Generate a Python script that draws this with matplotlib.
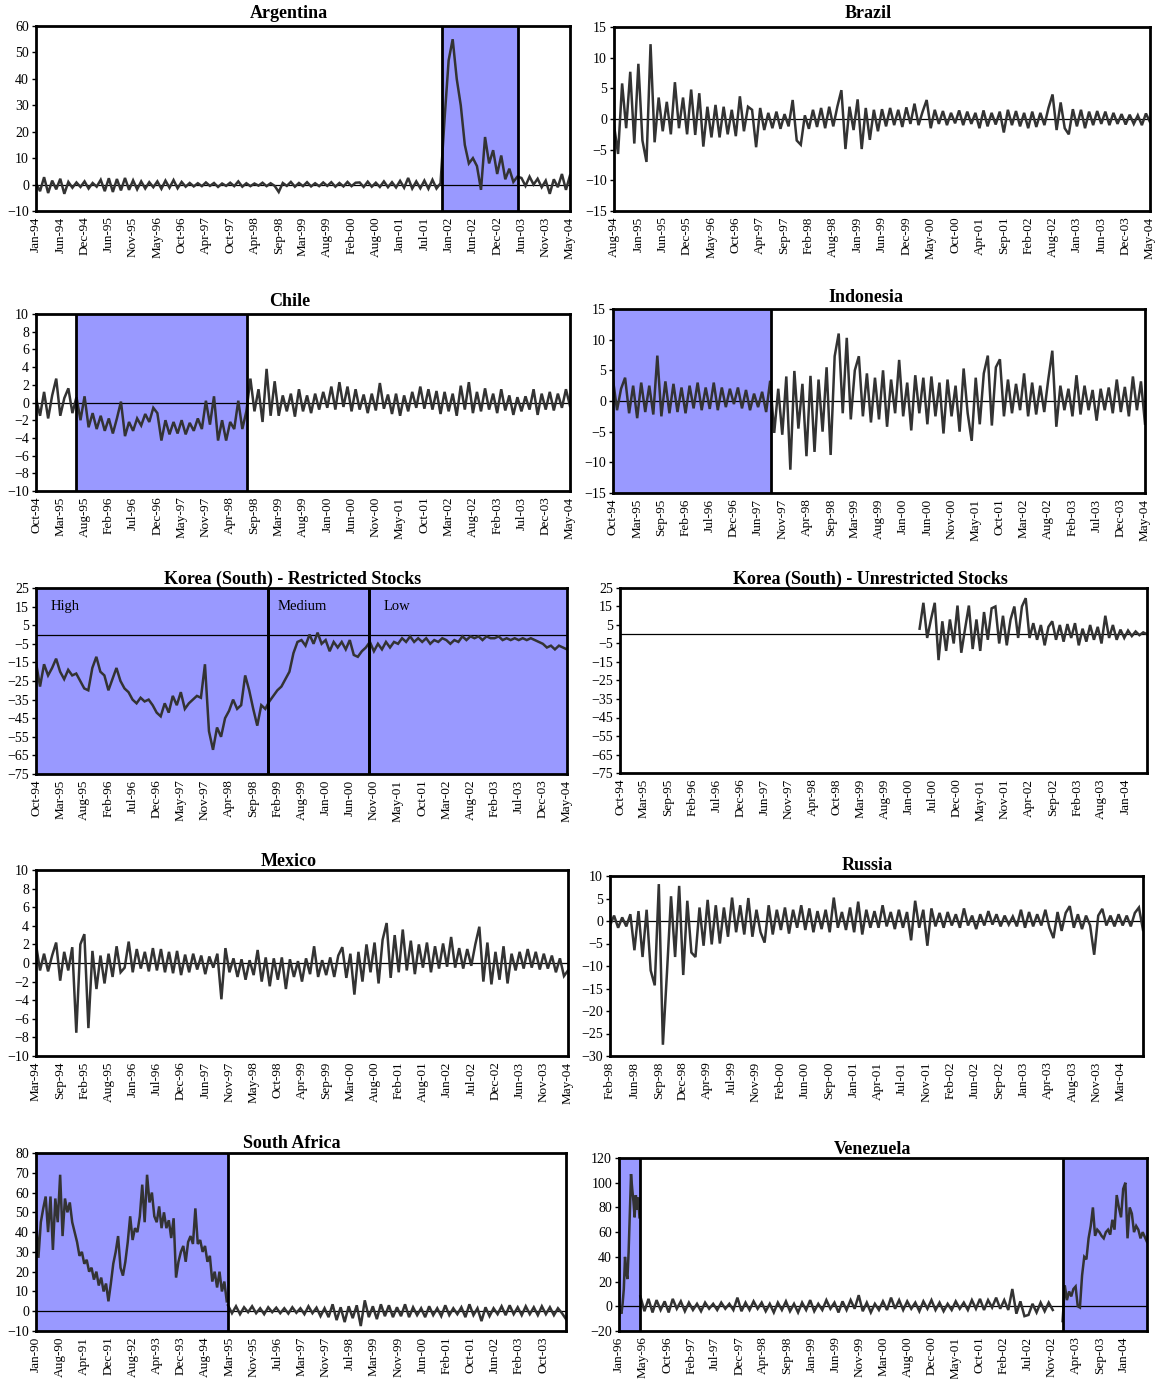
import numpy as np
import matplotlib.pyplot as plt

plt.rcParams['font.family'] = ['Liberation Serif', 'DejaVu Serif']

W, H = 1156, 1379
SHADE = '#9999ff'
LINE = '#333333'

# ---- tick labels (one every ~5 months, as in the source) ----
arg_ticks = ['Jan-94', 'Jun-94', 'Dec-94', 'Jun-95', 'Nov-95', 'May-96', 'Oct-96', 'Apr-97',
             'Oct-97', 'Apr-98', 'Sep-98', 'Mar-99', 'Aug-99', 'Feb-00', 'Aug-00', 'Jan-01',
             'Jul-01', 'Jan-02', 'Jun-02', 'Dec-02', 'Jun-03', 'Nov-03', 'May-04']
bra_ticks = ['Aug-94', 'Jan-95', 'Jun-95', 'Dec-95', 'May-96', 'Oct-96', 'Apr-97', 'Sep-97',
             'Feb-98', 'Aug-98', 'Jan-99', 'Jun-99', 'Dec-99', 'May-00', 'Oct-00', 'Apr-01',
             'Sep-01', 'Feb-02', 'Aug-02', 'Jan-03', 'Jun-03', 'Dec-03', 'May-04']
chi_ticks = ['Oct-94', 'Mar-95', 'Aug-95', 'Feb-96', 'Jul-96', 'Dec-96', 'May-97', 'Nov-97',
             'Apr-98', 'Sep-98', 'Mar-99', 'Aug-99', 'Jan-00', 'Jun-00', 'Nov-00', 'May-01',
             'Oct-01', 'Mar-02', 'Aug-02', 'Feb-03', 'Jul-03', 'Dec-03', 'May-04']
ind_ticks = ['Oct-94', 'Mar-95', 'Sep-95', 'Feb-96', 'Jul-96', 'Dec-96', 'Jun-97', 'Nov-97',
             'Apr-98', 'Sep-98', 'Mar-99', 'Aug-99', 'Jan-00', 'Jun-00', 'Nov-00', 'May-01',
             'Oct-01', 'Mar-02', 'Aug-02', 'Feb-03', 'Jul-03', 'Dec-03', 'May-04']
kor_r_ticks = ['Oct-94', 'Mar-95', 'Aug-95', 'Feb-96', 'Jul-96', 'Dec-96', 'May-97', 'Nov-97',
               'Apr-98', 'Sep-98', 'Feb-99', 'Aug-99', 'Jan-00', 'Jun-00', 'Nov-00', 'May-01',
               'Oct-01', 'Mar-02', 'Aug-02', 'Feb-03', 'Jul-03', 'Dec-03', 'May-04']
kor_u_ticks = ['Oct-94', 'Mar-95', 'Sep-95', 'Feb-96', 'Jul-96', 'Dec-96', 'Jun-97', 'Nov-97',
               'Apr-98', 'Oct-98', 'Mar-99', 'Aug-99', 'Jan-00', 'Jul-00', 'Dec-00', 'May-01',
               'Nov-01', 'Apr-02', 'Sep-02', 'Feb-03', 'Aug-03', 'Jan-04']
mex_ticks = ['Mar-94', 'Sep-94', 'Feb-95', 'Aug-95', 'Jan-96', 'Jul-96', 'Dec-96', 'Jun-97',
             'Nov-97', 'May-98', 'Oct-98', 'Apr-99', 'Sep-99', 'Mar-00', 'Aug-00', 'Feb-01',
             'Aug-01', 'Jan-02', 'Jul-02', 'Dec-02', 'Jun-03', 'Nov-03', 'May-04']
rus_ticks = ['Feb-98', 'Jun-98', 'Sep-98', 'Dec-98', 'Apr-99', 'Jul-99', 'Nov-99', 'Feb-00',
             'Jun-00', 'Sep-00', 'Jan-01', 'Apr-01', 'Jul-01', 'Nov-01', 'Feb-02', 'Jun-02',
             'Sep-02', 'Jan-03', 'Apr-03', 'Aug-03', 'Nov-03', 'Mar-04']
saf_ticks = ['Jan-90', 'Aug-90', 'Apr-91', 'Dec-91', 'Aug-92', 'Apr-93', 'Dec-93', 'Aug-94',
             'Mar-95', 'Nov-95', 'Jul-96', 'Mar-97', 'Nov-97', 'Jul-98', 'Mar-99', 'Nov-99',
             'Jun-00', 'Feb-01', 'Oct-01', 'Jun-02', 'Feb-03', 'Oct-03']
ven_ticks = ['Jan-96', 'May-96', 'Oct-96', 'Feb-97', 'Jul-97', 'Dec-97', 'Apr-98', 'Sep-98',
             'Jan-99', 'Jun-99', 'Nov-99', 'Mar-00', 'Aug-00', 'Dec-00', 'May-01', 'Oct-01',
             'Feb-02', 'Jul-02', 'Nov-02', 'Apr-03', 'Sep-03', 'Jan-04']

# ---- series values ----
arg_vals = [0.5, -2.5, 2.8, -3.2, 1.5, -1.8, 2.2, -3.5, 1.0, -1.2, 0.8, -0.9, 1.2, -1.5, 0.6, -0.8, 1.8, -2.5, 2.4, -2.8,
            2.1, -2.2, 2.5, -2.0, 1.6, -1.8, 1.2, -1.5, 0.9, -1.0, 1.2, -1.6, 1.5, -1.2, 1.7, -1.4, 1.0, -0.8, 0.6, -0.7,
            0.5, -0.6, 0.8, -0.5, 0.6, -0.9, 0.4, -0.5, 0.7, -0.6, 1.2, -0.8, 0.5, -0.6, 0.4, -0.4, 0.7, -0.6, 0.5, -0.5,
            -2.8, 0.6, -0.5, 1.0, -0.8, 0.6, -0.6, 0.9, -0.7, 0.5, -0.6, 0.8, -0.5, 0.9, -0.8, 0.6, -0.7, 1.0, -0.6, 0.7,
            0.8, -0.9, 1.1, -0.8, 0.7, -0.9, 1.2, -1.0, 0.9, -1.1, 1.4, -1.2, 2.5, -1.5, 1.2, -1.4, 1.5, -1.6, 1.8, -1.5,
            0.5, 25, 47, 55, 40, 30, 15, 8, 10, 7, -2, 18, 8, 13, 4, 11, 2, 6, 1, 3,
            2.5, -0.5, 3.0, 0.0, 2.2, -1.0, 1.5, -3.5, 2.0, -1.0, 4.0, -2.0, 3.5]
bra_vals = [-1.0, -5.7, 5.8, -1.5, 7.7, -4.0, 9.0, -3.5, -7.0, 12.2, -3.8, 3.5, -2.0, 2.8, -2.5, 6.0, -1.5, 3.5, -2.5, 4.8,
            -2.6, 4.2, -4.5, 2.0, -3.0, 2.3, -3.0, 2.0, -2.5, 1.5, -2.8, 3.7, -2.0, 2.0, 1.5, -4.6, 1.8, -1.8, 1.0, -1.5,
            1.2, -1.6, 0.8, -1.2, 3.1, -3.5, -4.2, 0.6, -1.6, 1.5, -1.3, 1.8, -1.5, 2.0, -1.2, 2.0, 4.7, -4.9, 2.0, -1.8,
            3.2, -4.9, 1.8, -3.4, 1.5, -2.0, 1.6, -1.2, 1.8, -1.0, 1.5, -1.3, 1.9, -0.8, 2.5, -1.0, 1.2, 3.1, -1.5, 1.5,
            -0.8, 1.3, -1.0, 1.0, -0.7, 1.4, -1.0, 1.2, -0.8, 1.0, -1.5, 1.4, -1.2, 1.0, -0.9, 1.2, -2.2, 1.5, -1.0, 1.3,
            -1.2, 1.0, -1.5, 1.2, -1.3, 1.0, -1.0, 1.8, 4.0, -1.8, 2.7, -1.5, -2.5, 1.6, -1.2, 1.5, -1.5, 1.2, -1.0, 1.3,
            -0.8, 1.2, -1.0, 1.0, -0.8, 0.8, -0.9, 0.7, -0.8, 0.6, -1.0, 0.9, -0.5]
chi_vals = [0.5, -1.5, 1.2, -1.8, 0.8, 2.7, -1.5, 0.5, 1.6, -1.2, 0.6, -2.0, 0.7, -2.8, -1.2, -3.0, -1.5, -3.2, -1.8, -3.5,
            -1.8, 0.1, -3.8, -2.2, -3.2, -1.8, -2.6, -1.3, -2.2, -0.6, -1.2, -4.3, -2.0, -3.6, -2.2, -3.5, -2.0, -3.6, -2.3, -3.2,
            -1.8, -3.0, 0.2, -2.5, 0.7, -4.3, -2.0, -4.3, -2.2, -3.0, 0.2, -3.0, -1.0, 2.7, -1.0, 1.5, -2.2, 3.8, -1.5, 2.4,
            -1.5, 0.8, -1.0, 1.0, -1.6, 1.5, -1.0, 0.8, -1.2, 1.0, -0.8, 1.2, -0.6, 1.8, -0.8, 2.3, -0.5, 1.8, -1.0, 1.5,
            -0.8, 0.9, -1.2, 1.0, -0.9, 2.2, -0.7, 0.9, -1.3, 1.0, -1.5, 0.8, -1.0, 1.2, -0.6, 1.8, -0.7, 1.5, -0.8, 1.3,
            -1.3, 1.2, -1.0, 1.0, -1.5, 1.9, -0.8, 2.3, -1.2, 1.2, -1.0, 1.6, -0.8, 1.0, -1.2, 1.5, -0.9, 0.8, -1.4, 0.6,
            -1.0, 0.7, -0.8, 1.5, -1.4, 1.0, -0.8, 1.2, -0.9, 1.0, -0.6, 1.5, -0.4]
ind_vals = [3.5, -1.5, 2.0, 3.8, -2.0, 2.5, -2.8, 3.0, -1.8, 2.5, -2.2, 7.4, -2.5, 3.2, -2.0, 2.8, -1.8, 2.2, -2.0, 2.5,
            -1.2, 3.0, -1.5, 2.2, -1.3, 3.0, -1.5, 2.2, -1.0, 2.0, -0.5, 2.2, -1.2, 1.8, -1.5, 1.2, -1.0, 1.5, -1.8, 3.3,
            -5.2, 2.0, -5.5, 4.0, -11.2, 4.9, -4.5, 2.8, -9.0, 4.1, -8.3, 3.5, -5.0, 5.5, -8.8, 7.3, 11.0, -2.0, 10.3, -3.0,
            5.0, 7.3, -2.5, 4.5, -3.5, 3.8, -3.0, 5.0, -4.2, 3.5, -2.0, 6.7, -2.5, 3.0, -4.8, 4.2, -2.0, 3.8, -3.8, 4.0,
            -2.5, 3.0, -5.3, 3.5, -2.5, 2.5, -5.0, 5.3, -2.0, -6.5, 3.8, -3.8, 4.5, 7.4, -4.0, 5.5, 6.8, -2.5, 3.5, -2.0,
            2.8, -1.5, 4.5, -2.5, 3.0, -2.2, 2.5, -1.8, 3.5, 8.2, -4.2, 2.5, -1.5, 2.0, -2.5, 4.2, -2.2, 2.5, -1.5, 1.8,
            -3.2, 2.0, -1.5, 2.2, -2.0, 3.5, -1.8, 2.3, -2.5, 4.0, -1.5, 3.2, -3.7]
kor_r_vals = [-15, -28, -16, -22, -18, -13, -20, -24, -19, -22, -21, -25, -29, -30, -18, -12, -20, -22, -30, -24,
              -18, -25, -29, -31, -35, -37, -34, -36, -35, -38, -42, -44, -37, -42, -33, -38, -31, -40, -37, -35,
              -33, -34, -16, -52, -62, -50, -55, -45, -41, -35, -40, -38, -22, -30, -40, -49, -38, -40, -36, -33,
              -30, -28, -24, -20, -10, -4, -3, -6, 0, -5, 1, -5, -3, -9, -4, -7, -4, -8, -3, -11,
              -12, -9, -7, -4, -9, -5, -8, -4, -7, -4, -5, -2, -4, -1, -4, -2, -4, -2, -5, -3,
              -4, -2, -3, -5, -3, -4, -1, -3, -1, -2, -1, -3, -1, -2, -2, -1, -3, -2, -3, -2,
              -3, -2, -3, -2, -3, -4, -5, -7, -6, -8, -6, -7, -8]
kor_u_vals = [3, 17, -2, 8, 17, -14, 7, -9, 8, -5, 15.5, -10, 3, 15.5, -8, 8, -9, 12, -3, 14,
              15, -5, 10, -6, 8, 15, -2, 15, 19.5, -2, 6, -3, 5, -6, 4, 7, -3, 5, -4, 5.5,
              -2, 6, -6, 3, -4, 5, -3, 4, -5, 10, -2, 5, -3, 2.5, -2, 2, -1, 1.5, -0.5, 1, 0]
mex_vals = [2.0, -0.8, 1.0, -0.9, 0.8, 2.2, -1.9, 1.2, -0.8, 1.7, -7.5, 2.0, 3.1, -7.0, 1.3, -2.8, 0.8, -2.2, 1.0, -1.5,
            1.8, -1.0, -0.5, 2.3, -1.0, 1.5, -0.6, 1.2, -0.9, 1.6, -0.8, 1.5, -1.0, 1.2, -1.1, 1.3, -1.3, 0.9, -1.0, 1.0,
            -0.7, 0.8, -1.2, 0.7, -0.5, 1.0, -3.9, 1.6, -1.0, 0.5, -1.5, 0.4, -1.8, 0.3, -1.3, 1.4, -2.0, 0.6, -2.5, 0.5,
            -1.8, 0.6, -2.8, 0.4, -1.5, 0.2, -2.0, 0.5, -1.2, 1.8, -1.5, 0.3, -1.3, 0.6, -1.5, 0.8, 1.7, -1.6, 1.0, -3.4,
            1.2, -2.0, 2.0, -1.0, 2.2, -2.2, 2.5, 4.3, -1.6, 3.0, -1.0, 3.6, -0.8, 2.4, -1.2, 2.0, -0.5, 2.2, -1.0, 1.8,
            -0.6, 2.1, -0.4, 2.8, -0.5, 1.6, -0.6, 1.5, -0.3, 2.0, 3.9, -2.0, 2.2, -2.3, 1.2, -1.8, 1.8, -2.2, 1.0, -0.8,
            1.2, -0.6, 1.5, -0.5, 1.2, -0.7, 1.0, -0.6, 0.8, -1.0, 0.5, -1.4, -0.8]
rus_vals = [-1.0, 1.2, -1.5, 0.8, -1.2, 1.5, -6.5, 2.2, -8.0, 2.5, -11.0, -14.3, 8.2, -27.5, -11.5, 5.5, -8.0, 7.8, -12.0, 4.5,
            -7.0, -8.0, 3.0, -5.5, 4.7, -5.2, 3.5, -5.0, 3.0, -3.5, 5.2, -2.5, 3.5, -3.0, 5.1, -3.5, 2.5, -2.5, -4.8, 3.5,
            -3.0, 2.5, -2.0, 3.0, -2.8, 2.5, -1.5, 3.5, -2.0, 2.8, -2.5, 2.2, -1.8, 2.5, -2.5, 5.2, -1.5, 2.0, -2.0, 3.0,
            -2.5, 4.3, -3.0, 2.5, -1.5, 2.2, -1.5, 3.5, -1.2, 2.0, -1.8, 2.5, -1.5, 2.0, -4.3, 4.5, -1.5, 2.5, -5.5, 2.8,
            -1.2, 1.8, -1.5, 2.0, -1.0, 1.5, -1.5, 2.8, -1.0, 1.2, -1.8, 1.5, -1.0, 2.2, -0.8, 1.5, -1.2, 1.2, -0.8, 1.0,
            -1.2, 2.5, -1.5, 2.0, -1.2, 1.5, -1.0, 2.5, -1.5, -3.8, 2.0, -2.2, 1.8, 3.3, -1.5, 1.5, -1.8, 1.2, -1.0, -7.5,
            1.2, 2.7, -1.0, 1.2, -1.2, 1.5, -1.0, 1.2, -1.2, 1.8, 3.0, -2.0]
saf_vals_pre = [48, 27, 45, 52, 58, 40, 58, 31, 57, 45, 69, 38, 57, 50, 55, 45, 40, 35, 28, 30,
                24, 26, 20, 22, 16, 20, 13, 17, 10, 14, 5, 14, 24, 30, 38, 22, 18, 25, 35, 48,
                36, 42, 40, 48, 64, 45, 69, 55, 60, 48, 45, 53, 42, 50, 42, 46, 37, 47, 17, 25,
                30, 33, 25, 35, 38, 34, 52, 34, 36, 30, 33, 25, 28, 15, 20, 12, 20, 10, 15, 5]
saf_vals_post = [3, -1, 2.5, -1.5, 2, -0.5, 2.5, -1, 1.5, -1.5, 2, -0.5, 1.8, -1, 1.5, -1.2, 2, -0.8, 1.5, -1.5,
                 2.5, -1, 1.8, -2.5, 1.5, -3, 3.5, -4.5, 2, -5.5, 2.5, -3.5, 3, -7.5, 5.5, -3, 2.5, -4, 3.5, -2.5,
                 3, -3, 2, -2.5, 3.5, -3, 2, -2, 1.5, -3, 2.5, -2, 1.5, -2.5, 3, -2, 1.5, -1.5, 2, -3,
                 3.5, -2, 1.5, -5, 2, -2.5, 1.5, -1.5, 2.5, -2, 3, -1.5, 2, -2, 2.5, -1.5, 2, -2, 2.5, -1.5,
                 2, -2, 1.5, -1, -4]
ven_vals_96 = [-8, -3, -6, 2, 14, 40, 28, 22, 44, 75, 107, 95, 85, 72, 90, 78, 88, 72]
ven_vals_mid = [8, -4, 6, -5, 5, -3, 4, -5, 6, -2, 4, -4, 3, -3, 2, -4, 3, -2, 2, -3,
                3, -2, 2, -3, 7, -4, 3, -3, 4, -2, 3, -4, 2, -5, 3, -3, 4, -4, 2, -5,
                3, -3, 5, -4, 2, -3, 5, -2, 3, -5, 4, -3, 5, -2, 9, -4, 3, -5, 2, -3,
                4, -3, 7, -2, 5, -3, 4, -2, 3, -4, 4, -2, 5, -3, 3, -4, 2, -3, 4, -2,
                3, -3, 5, -2, 6, -3, 5, -1, 7, -2, 5, -3, 14, -6, 4, -8, -7, 2, -5, 3,
                -4, 3, -3]
ven_vals_03 = [-12, 17, 5, 12, 8, 14, 16, 0, -1, 25, 40, 38, 55, 65, 80, 57, 62, 60, 57, 55,
               60, 62, 58, 70, 62, 90, 80, 72, 95, 100, 55, 80, 75, 60, 65, 62, 55, 60, 56, 52]

# panel setup: box in pixels (left, top, right, bottom); x in tick-interval units
panels = [
    dict(title='Argentina', tpos=(289, 14), box=(36, 26, 570, 211), ticks=arg_ticks, xmax=22,
         ylim=(-10, 60), ystep=10, series=[(0, 22, arg_vals)], shade=[(16.73, 19.86)]),
    dict(title='Brazil', tpos=(868, 14), box=(614, 27, 1150, 211), ticks=bra_ticks, xmax=22,
         ylim=(-15, 15), ystep=5, series=[(0, 22, bra_vals)], shade=[]),
    dict(title='Chile', tpos=(290, 302), box=(36, 314, 570, 491), ticks=chi_ticks, xmax=22,
         ylim=(-10, 10), ystep=2, series=[(0, 22, chi_vals)], shade=[(1.65, 8.69)]),
    dict(title='Indonesia', tpos=(866, 298), box=(613, 309, 1145, 493), ticks=ind_ticks, xmax=22,
         ylim=(-15, 15), ystep=5, series=[(0, 22, ind_vals)], shade=[(0, 6.53)]),
    dict(title='Korea (South) - Restricted Stocks', tpos=(293, 579), box=(36, 588, 567, 774),
         ticks=kor_r_ticks, xmax=22, ylim=(-75, 25), ystep=10, series=[(0, 22, kor_r_vals)],
         shade=[(0, 9.61), (9.61, 13.8), (13.8, 22)]),
    dict(title='Korea (South) - Unrestricted Stocks', tpos=(870, 579), box=(620, 588, 1147, 773),
         ticks=kor_u_ticks, xmax=21.9, ylim=(-75, 25), ystep=10, series=[(12.45, 21.9, kor_u_vals)], shade=[]),
    dict(title='Mexico', tpos=(289, 861), box=(36, 870, 568, 1056), ticks=mex_ticks, xmax=22,
         ylim=(-10, 10), ystep=2, series=[(0, 22, mex_vals)], shade=[]),
    dict(title='Russia', tpos=(867, 865), box=(610, 876, 1143, 1056), ticks=rus_ticks, xmax=21.9,
         ylim=(-30, 10), ystep=5, series=[(0, 21.9, rus_vals)], shade=[]),
    dict(title='South Africa', tpos=(292, 1143), box=(36, 1153, 566, 1331), ticks=saf_ticks, xmax=21.95,
         ylim=(-10, 80), ystep=10, series=[(0, 7.9, saf_vals_pre), (7.95, 21.95, saf_vals_post)],
         shade=[(0, 7.95)]),
    dict(title='Venezuela', tpos=(872, 1149), box=(619, 1158, 1147, 1331), ticks=ven_ticks, xmax=21.96,
         ylim=(-20, 120), ystep=20,
         series=[(0, 0.85, ven_vals_96), (0.89, 18.04, ven_vals_mid), (18.45, 21.96, ven_vals_03)],
         shade=[(0, 0.89), (18.45, 21.96)]),
]

fig = plt.figure(figsize=(W / 100, H / 100), dpi=100)

for p in panels:
    l, t, r, b = p['box']
    ax = fig.add_axes([l / W, 1 - b / H, (r - l) / W, (b - t) / H])
    ax.set_xlim(0, p['xmax'])
    ax.set_ylim(*p['ylim'])

    for a, c in p['shade']:
        ax.axvspan(a, c, color=SHADE, lw=0, zorder=0)
        for edge in (a, c):
            if 0 < edge < p['xmax']:
                ax.axvline(edge, color='black', lw=2, zorder=4)

    ax.axhline(0, color='black', lw=0.9, zorder=1)
    for x0, x1, vals in p['series']:
        xs = np.linspace(x0, x1, len(vals))
        ax.plot(xs, vals, color=LINE, lw=1.8, zorder=3, solid_joinstyle='miter')

    y0, y1 = p['ylim']
    ax.set_yticks(np.arange(y0, y1 + 1, p['ystep']))
    ax.tick_params(axis='y', labelsize=10, length=3, width=1, pad=2)
    ax.set_xticks(range(len(p['ticks'])))
    ax.set_xticklabels(p['ticks'], rotation=90, fontsize=9.5)
    ax.tick_params(axis='x', length=0, pad=4)
    for s in ax.spines.values():
        s.set_linewidth(2)
        s.set_zorder(5)

    fig.text(p['tpos'][0] / W, 1 - p['tpos'][1] / H, p['title'], ha='center', va='center',
             fontsize=13, fontweight='bold')

    if p['title'].endswith('Restricted Stocks'):
        for xt, lab in [(0.6, 'High'), (10.0, 'Medium'), (14.4, 'Low')]:
            ax.text(xt, 15, lab, fontsize=10.5, va='center', ha='left', zorder=6)

fig.savefig('out.png', dpi=100)
